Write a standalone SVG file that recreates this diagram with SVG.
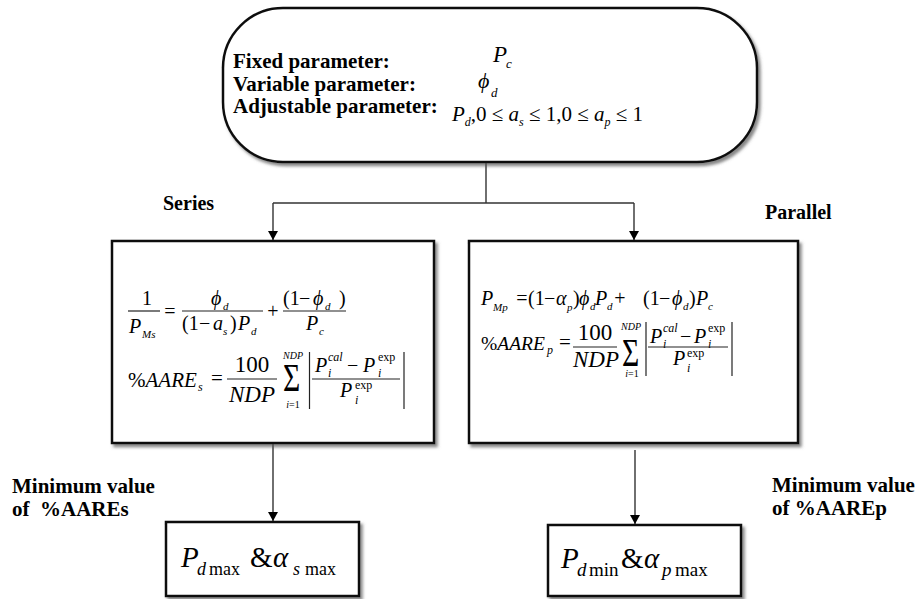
<svg xmlns="http://www.w3.org/2000/svg" width="920" height="599" viewBox="0 0 920 599">
<style>
text{fill:#000}
.i{font-style:italic}
.b{font-weight:bold}
.box{fill:#fff;stroke:#111;stroke-width:2.5}
.con{fill:none;stroke:#333;stroke-width:1.4}
.rule{stroke:#222;stroke-width:1.2}
</style>
<defs>
<filter id="sh" x="-5%" y="-5%" width="115%" height="120%">
<feDropShadow dx="2.5" dy="3" stdDeviation="1.5" flood-color="#555" flood-opacity="0.7"/>
</filter>
<marker id="ah" markerWidth="9" markerHeight="10" refX="9" refY="5" orient="auto" markerUnits="userSpaceOnUse">
<path d="M0,0 L9,5 L0,10 z" fill="#000"/>
</marker>
</defs>

<g id="connectors">
<polyline class="con" points="486,162 486,203"/>
<polyline class="con" points="273,203 634,203"/>
<line class="con" x1="273" y1="203" x2="273" y2="240" marker-end="url(#ah)"/>
<line class="con" x1="634" y1="203" x2="634" y2="240" marker-end="url(#ah)"/>
<line class="con" x1="273" y1="444" x2="273" y2="521" marker-end="url(#ah)"/>
<line class="con" x1="635" y1="450" x2="635" y2="524" marker-end="url(#ah)"/>
</g>

<g font-family="Liberation Serif">
<g id="params">
<rect class="box" x="223" y="8" width="534" height="154" rx="60" ry="60" filter="url(#sh)"/>
<text class="b" x="233" y="68" font-size="21">Fixed parameter:</text>
<text class="b" x="233" y="91" font-size="21">Variable parameter:</text>
<text class="b" x="233" y="113" font-size="21">Adjustable parameter:</text>
<text class="i" x="493" y="62" font-size="23">P</text>
<text class="i" x="506" y="68" font-size="13">c</text>
<text class="i" x="478" y="88" font-size="22">ϕ</text>
<text class="i" x="491" y="97" font-size="13">d</text>
<text x="452" y="121" font-size="21"><tspan class="i">P</tspan><tspan class="i" font-size="12" dy="5">d</tspan><tspan dy="-5">,0 ≤ </tspan><tspan class="i">a</tspan><tspan class="i" font-size="12" dy="5">s</tspan><tspan dy="-5"> ≤ 1,0 ≤ </tspan><tspan class="i">a</tspan><tspan class="i" font-size="12" dy="5">p</tspan><tspan dy="-5"> ≤ 1</tspan></text>
</g>

<g id="label-series"><text class="b" x="163" y="210" font-size="20">Series</text></g>
<g id="label-parallel"><text class="b" x="765" y="219" font-size="20">Parallel</text></g>

<g id="series">
<rect class="box" x="112" y="241" width="322" height="202" filter="url(#sh)"/>
<text x="147" y="305" font-size="20" text-anchor="middle">1</text>
<line class="rule" x1="128" y1="311" x2="160" y2="311"/>
<text class="i" x="129" y="333" font-size="20">P</text>
<text class="i" x="142" y="338" font-size="11">Ms</text>
<text x="170" y="318" font-size="20" text-anchor="middle">=</text>
<text class="i" x="211" y="305" font-size="20">ϕ</text>
<text class="i" x="223" y="310" font-size="11">d</text>
<line class="rule" x1="182" y1="311" x2="263" y2="311"/>
<text x="182" y="330" font-size="20">(1</text>
<text x="199" y="330" font-size="20">−</text>
<text class="i" x="213" y="330" font-size="20">a</text>
<text class="i" x="223" y="335" font-size="11">s</text>
<text x="230" y="330" font-size="20">)</text>
<text class="i" x="238" y="330" font-size="20">P</text>
<text class="i" x="251" y="335" font-size="11">d</text>
<text x="273" y="318" font-size="20" text-anchor="middle">+</text>
<text x="283" y="305" font-size="20">(1</text>
<text x="299" y="305" font-size="20">−</text>
<text class="i" x="313" y="305" font-size="20">ϕ</text>
<text class="i" x="325" y="310" font-size="11">d</text>
<text x="339" y="305" font-size="20">)</text>
<line class="rule" x1="283" y1="311" x2="346" y2="311"/>
<text class="i" x="306" y="330" font-size="20">P</text>
<text class="i" x="319" y="335" font-size="11">c</text>
<text x="128" y="387" font-size="21">%<tspan class="i">AARE</tspan></text>
<text class="i" x="198" y="391" font-size="12">s</text>
<text x="217" y="385" font-size="21" text-anchor="middle">=</text>
<text x="252" y="372" font-size="23" text-anchor="middle">100</text>
<line class="rule" x1="227" y1="379" x2="277" y2="379"/>
<text class="i" x="252" y="402" font-size="23" text-anchor="middle">NDP</text>
<text class="i" x="293" y="359" font-size="10" text-anchor="middle">NDP</text>
<text transform="translate(283,391) scale(0.78,1.08)" font-size="38">Σ</text>
<text x="293" y="408" font-size="10" text-anchor="middle"><tspan class="i">i</tspan>=1</text>
<line class="rule" x1="309.5" y1="352" x2="309.5" y2="409"/>
<line class="rule" x1="404" y1="352" x2="404" y2="409"/>
<text class="i" x="315" y="372" font-size="20">P</text>
<text class="i" x="328" y="361" font-size="12">cal</text>
<text class="i" x="328" y="377" font-size="12">i</text>
<text x="347" y="372" font-size="20">−</text>
<text class="i" x="363" y="372" font-size="20">P</text>
<text x="378" y="361" font-size="12">exp</text>
<text class="i" x="378" y="377" font-size="12">i</text>
<line class="rule" x1="312" y1="379" x2="400" y2="379"/>
<text class="i" x="340" y="397" font-size="20">P</text>
<text x="355" y="389" font-size="12">exp</text>
<text class="i" x="355" y="404" font-size="12">i</text>
</g>

<g id="parallel">
<rect class="box" x="469" y="241" width="329" height="202" filter="url(#sh)"/>
<text class="i" x="481" y="305" font-size="20">P</text>
<text class="i" x="493" y="311" font-size="11">Mp</text>
<text x="522" y="305" font-size="20" text-anchor="middle">=</text>
<text x="528" y="305" font-size="20">(1</text>
<text x="544" y="305" font-size="20">−</text>
<text class="i" x="556" y="305" font-size="20">α</text>
<text class="i" x="567" y="311" font-size="11">p</text>
<text x="573" y="305" font-size="20">)</text>
<text class="i" x="579" y="305" font-size="20">ϕ</text>
<text class="i" x="590" y="310" font-size="11">d</text>
<text class="i" x="595" y="305" font-size="20">P</text>
<text class="i" x="607" y="310" font-size="11">d</text>
<text x="620" y="305" font-size="20" text-anchor="middle">+</text>
<text x="643" y="305" font-size="20">(1</text>
<text x="659" y="305" font-size="20">−</text>
<text class="i" x="672" y="305" font-size="20">ϕ</text>
<text class="i" x="683" y="310" font-size="11">d</text>
<text x="689" y="305" font-size="20">)</text>
<text class="i" x="696" y="305" font-size="20">P</text>
<text class="i" x="708" y="310" font-size="11">c</text>
<text x="481" y="350" font-size="19.5">%<tspan class="i">AARE</tspan></text>
<text class="i" x="547" y="354" font-size="12">p</text>
<text x="565" y="349" font-size="21" text-anchor="middle">=</text>
<text x="595" y="340" font-size="23" text-anchor="middle">100</text>
<line class="rule" x1="573" y1="347" x2="617" y2="347"/>
<text class="i" x="596" y="367" font-size="23" text-anchor="middle">NDP</text>
<text class="i" x="631" y="330" font-size="10" text-anchor="middle">NDP</text>
<text transform="translate(622,366) scale(0.78,1.08)" font-size="38">Σ</text>
<text x="632" y="377" font-size="10" text-anchor="middle"><tspan class="i">i</tspan>=1</text>
<line class="rule" x1="646" y1="322" x2="646" y2="376"/>
<line class="rule" x1="732" y1="322" x2="732" y2="376"/>
<text class="i" x="650" y="343" font-size="20">P</text>
<text class="i" x="663" y="332" font-size="12">cal</text>
<text class="i" x="663" y="348" font-size="12">i</text>
<text x="680" y="343" font-size="20">−</text>
<text class="i" x="694" y="343" font-size="20">P</text>
<text x="708" y="332" font-size="12">exp</text>
<text class="i" x="708" y="348" font-size="12">i</text>
<line class="rule" x1="648" y1="347" x2="728" y2="347"/>
<text class="i" x="673" y="365" font-size="20">P</text>
<text x="687" y="357" font-size="12">exp</text>
<text class="i" x="687" y="372" font-size="12">i</text>
</g>

<g id="label-min-s">
<text class="b" x="12" y="493" font-size="21">Minimum value</text>
<text class="b" x="12" y="516" font-size="21" xml:space="preserve">of  %AAREs</text>
</g>
<g id="label-min-p">
<text class="b" x="772" y="492" font-size="21">Minimum value</text>
<text class="b" x="772" y="515" font-size="21">of %AAREp</text>
</g>

<g id="result-series">
<rect class="box" x="166" y="522" width="193" height="74" filter="url(#sh)"/>
<text class="i" x="181" y="567" font-size="29">P</text>
<text class="i" x="197" y="575" font-size="18">d</text>
<text x="209" y="575" font-size="18">max</text>
<text x="250" y="567" font-size="29">&amp;</text>
<text class="i" x="273" y="567" font-size="29">α</text>
<text class="i" x="293" y="575" font-size="18">s</text>
<text x="305" y="575" font-size="18">max</text>
</g>

<g id="result-parallel">
<rect class="box" x="548" y="525" width="193" height="71" filter="url(#sh)"/>
<text class="i" x="561" y="568" font-size="29">P</text>
<text class="i" x="577" y="576" font-size="19">d</text>
<text x="589" y="576" font-size="19">min</text>
<text x="621" y="568" font-size="29">&amp;</text>
<text class="i" x="644" y="568" font-size="29">α</text>
<text class="i" x="662" y="576" font-size="19">p</text>
<text x="675" y="576" font-size="19">max</text>
</g>
</g>
</svg>
